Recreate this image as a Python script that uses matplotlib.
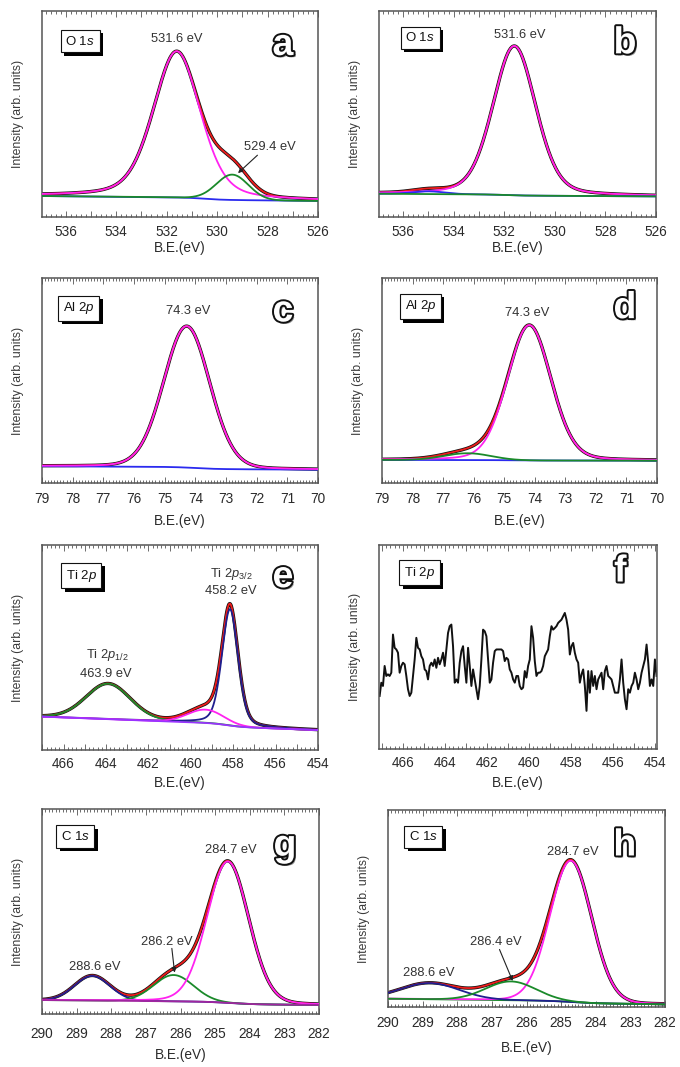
import numpy as np
import matplotlib
matplotlib.use("Agg")
import matplotlib.pyplot as plt
import matplotlib.patheffects as pe
from matplotlib.ticker import MultipleLocator, FuncFormatter

plt.rcParams['font.family'] = ['Liberation Sans', 'DejaVu Sans']
plt.rcParams['mathtext.fontset'] = 'custom'
plt.rcParams['mathtext.rm'] = 'Liberation Sans'
plt.rcParams['mathtext.it'] = 'Liberation Sans:italic'

# ---------------- data (peak parameters) ----------------
# each fitted component: centre (eV), height above background, FWHM (eV), Lorentzian fraction
# background: [value at low-BE end, slope per eV, Shirley step height, step centre]
a_centers = [531.6, 529.4]
a_heights = [71.0, 12.3]
a_fwhm = [2.2, 1.5]
a_eta = [0.35, 0.0]
a_bg = [7.8, 0.127, 1.0, 530.5]

b_centers = [531.6, 535.0]
b_heights = [72.5, 1.3]
b_fwhm = [2.0, 1.5]
b_eta = [0.25, 0.0]
b_bg = [10.0, 0.073, 0.5, 532.0]

c_centers = [74.28]
c_heights = [69.0]
c_fwhm = [1.78]
c_eta = [0.1]
c_bg = [6.5, 0.078, 1.0, 74.0]

d_centers = [74.18, 76.2]
d_heights = [66.0, 3.3]
d_fwhm = [1.68, 1.8]
d_eta = [0.15, 0.0]
d_bg = [10.9, 0.02, 0.2, 75.0]

e_centers = [463.9, 458.15, 459.3]
e_heights = [17.3, 56.8, 6.5]
e_fwhm = [2.46, 0.9, 2.0]
e_eta = [0.1, 0.3, 0.0]
e_bg = [9.7, 0.39, 1.5, 458.3]

g_centers = [288.55, 286.2, 284.63]
g_heights = [12.0, 12.8, 69.0]
g_fwhm = [1.2, 1.35, 1.42]
g_eta = [0.0, 0.0, 0.1]
g_bg = [4.4, 0.15, 1.2, 284.6]

h_centers = [288.8, 286.45, 284.72]
h_heights = [8.2, 9.5, 71.7]
h_fwhm = [2.0, 1.7, 1.42]
h_eta = [0.0, 0.0, 0.05]
h_bg = [1.4, 0.2, 1.2, 284.7]

# panel f: raw Ti 2p spectrum (no peak), read point by point
f_be_range = [467.11, 453.92]
f_intensity = [26.0, 32.5, 30.9, 40.7, 35.8, 36.6, 35.8, 37.4, 56.1, 49.6,
               48.8, 47.2, 37.4, 40.7, 42.3, 41.5, 35.8, 29.3, 26.0, 27.6,
               35.8, 43.9, 54.5, 49.6, 48.8, 45.5, 43.9, 39.0, 38.2, 34.1,
               40.7, 42.3, 40.7, 43.9, 39.8, 44.7, 41.5, 43.9, 47.2, 40.7,
               48.8, 56.9, 60.2, 61.0, 50.4, 32.5, 34.1, 32.5, 42.3, 48.0,
               50.4, 40.7, 32.5, 49.6, 40.7, 30.9, 39.0, 34.1, 29.3, 24.4,
               30.9, 43.9, 58.5, 57.7, 55.3, 43.9, 32.5, 34.1, 42.3, 48.0,
               48.8, 48.8, 48.8, 48.8, 48.0, 43.1, 44.7, 43.9, 39.0, 37.4,
               34.1, 32.5, 35.8, 35.8, 30.9, 29.3, 30.1, 38.2, 35.0, 40.7,
               43.9, 60.2, 54.5, 43.1, 35.8, 37.4, 37.4, 38.2, 40.7, 45.5,
               47.2, 48.8, 55.3, 60.2, 58.5, 59.3, 60.2, 61.8, 62.6, 63.4,
               65.0, 66.7, 63.4, 58.5, 46.3, 50.4, 52.0, 47.2, 43.9, 42.3,
               32.5, 36.6, 39.0, 30.9, 18.7, 38.2, 27.6, 38.2, 30.9, 35.8,
               29.3, 34.1, 35.8, 37.4, 29.3, 38.2, 40.7, 35.8, 35.0, 34.1,
               30.9, 27.6, 27.6, 27.6, 34.1, 43.9, 32.5, 24.4, 19.5, 29.3,
               27.6, 30.9, 32.5, 37.4, 34.1, 29.3, 32.5, 37.4, 40.7, 43.9,
               51.2, 42.3, 30.9, 34.1, 30.9, 43.9, 35.8]

core_levels = ['O 1$\\mathit{s}$', 'O 1$\\mathit{s}$', 'Al 2$\\mathit{p}$', 'Al 2$\\mathit{p}$',
               'Ti 2$\\mathit{p}$', 'Ti 2$\\mathit{p}$', 'C 1$\\mathit{s}$', 'C 1$\\mathit{s}$']
panel_letters = ['a', 'b', 'c', 'd', 'e', 'f', 'g', 'h']

# ---------------- styles ----------------
BLACK = '#111111'
RED = '#ee1c1c'
MAG = '#ff22f0'
GRN = '#1a8a2a'
BLUE = '#2b2bef'
NAVY = '#1f1f8f'
VIOL = '#9933ff'
PURP = '#a0259f'
TXT = '#333333'

W, H = 680, 1067
fig = plt.figure(figsize=(W / 100, H / 100), dpi=100)


def add_ax(l, t, r, b):
    return fig.add_axes([l / W, 1 - b / H, (r - l) / W, (b - t) / H])


def pv(x, c, h, w, eta):
    u = ((x - c) / w) ** 2
    return h * ((1 - eta) * np.exp(-4 * np.log(2) * u) + eta / (1 + 4 * u))


def background(x, p):
    y0, slope, step, xc = p
    return y0 + slope * (x - x.min()) + step / (1 + np.exp(-(x - xc) / 0.35))


def style_axis(ax, xlim, minor, label_step, pad, be_off, hpx):
    ax.set_xlim(*xlim)
    ax.set_ylim(0, 100)
    ax.set_yticks([])
    ax.xaxis.set_major_locator(MultipleLocator(1))
    ax.xaxis.set_minor_locator(MultipleLocator(minor))
    ax.xaxis.set_major_formatter(FuncFormatter(
        lambda v, p: f'{v:.0f}' if abs(v / label_step - round(v / label_step)) < 1e-6 else ''))
    ax.tick_params(axis='x', which='both', direction='in', top=True, bottom=True,
                   color='#555555', width=0.6, labelsize=9.8, labelcolor='#2a2a2a', pad=pad)
    ax.tick_params(axis='x', which='major', length=4)
    ax.tick_params(axis='x', which='minor', length=2)
    for s in ax.spines.values():
        s.set_color('#555555')
        s.set_linewidth(1.1)
    ax.set_xlabel('B.E.(eV)', fontsize=9.8, color='#2a2a2a')
    ax.xaxis.label.set_va('center')
    ax.xaxis.set_label_coords(0.5, -be_off / hpx)
    ax.set_ylabel('Intensity (arb. units)', fontsize=8.8, color='#3a3a3a')
    ax.yaxis.set_label_coords(-18 / 276, 0.5)


def label_box(ax, x, y, text):
    t = ax.text(x, y, text, transform=ax.transAxes, fontsize=9.5, va='center', ha='left',
                color='#111111',
                bbox=dict(boxstyle='square,pad=0.35', fc='white', ec='#111111', lw=0.8))
    t.get_bbox_patch().set_path_effects([
        pe.SimplePatchShadow(offset=(2.5, -2.5), shadow_rgbFace='black', alpha=1.0),
        pe.Normal()])


def letter(ax, x, y, s):
    ax.text(x, y, s, transform=ax.transAxes, fontsize=27, fontweight='bold', color='white',
            ha='center', va='center',
            path_effects=[pe.SimplePatchShadow(offset=(1.5, -1.5), shadow_rgbFace='#999999', alpha=1),
                          pe.Stroke(linewidth=2.8, foreground='#111111'), pe.Normal()])


def draw_fit(ax, xlim, bgp, centers, heights, fwhm, eta, comp_colors, bg_color, order):
    x = np.linspace(xlim[0], xlim[1], 600)
    bg = background(x, bgp)
    comps = [bg + pv(x, c, h, w, e) for c, h, w, e in zip(centers, heights, fwhm, eta)]
    env = bg + sum(cc - bg for cc in comps)
    ax.plot(x, env, color=BLACK, lw=2.4, zorder=1)
    ax.plot(x, env, color=RED, lw=1.3, zorder=2)
    z = 3
    for item in order:
        if item == 'bg':
            ax.plot(x, bg, color=bg_color, lw=1.3, zorder=z)
        else:
            ax.plot(x, comps[item], color=comp_colors[item], lw=1.3, zorder=z)
        z += 1


def ann(ax, x, y, s, **kw):
    ax.text(x, y, s, fontsize=9.3, color=TXT, ha='center', va='center', **kw)


def arrow(ax, xy, xytext):
    ax.annotate('', xy=xy, xytext=xytext,
                arrowprops=dict(arrowstyle='-|>', color='#222222', lw=0.8,
                                mutation_scale=7, shrinkA=0, shrinkB=0))


# ---------------- panel a ----------------
ax = add_ax(42, 11, 318, 217)
xl = (536.94, 526)
style_axis(ax, xl, 0.2, 2, 5.4, 31, 206)
draw_fit(ax, xl, a_bg, a_centers, a_heights, a_fwhm, a_eta, [MAG, GRN], BLUE, ['bg', 0, 1])
ann(ax, 531.6, 86.5, '531.6 eV')
ann(ax, 527.9, 34, '529.4 eV')
arrow(ax, (529.17, 21.3), (528.4, 30))
label_box(ax, 0.085, 0.854, core_levels[0])
letter(ax, 0.873, 0.835, panel_letters[0])

# ---------------- panel b ----------------
ax = add_ax(379, 11, 656, 217)
xl = (536.95, 526)
style_axis(ax, xl, 0.2, 2, 5.4, 31, 206)
draw_fit(ax, xl, b_bg, b_centers, b_heights, b_fwhm, b_eta, [MAG, BLUE], GRN, [0, 1, 'bg'])
ann(ax, 531.4, 88.4, '531.6 eV')
label_box(ax, 0.095, 0.87, core_levels[1])
letter(ax, 0.888, 0.843, panel_letters[1])

# ---------------- panel c ----------------
ax = add_ax(42, 278, 318, 483)
xl = (79, 70)
style_axis(ax, xl, 0.1, 1, 6.8, 38, 205)
draw_fit(ax, xl, c_bg, c_centers, c_heights, c_fwhm, c_eta, [MAG], BLUE, ['bg', 0])
ann(ax, 74.24, 83.7, '74.3 eV')
label_box(ax, 0.075, 0.853, core_levels[2])
letter(ax, 0.873, 0.837, panel_letters[2])

# ---------------- panel d ----------------
ax = add_ax(382, 278, 657, 483)
xl = (79, 70)
style_axis(ax, xl, 0.1, 1, 6.8, 38, 205)
draw_fit(ax, xl, d_bg, d_centers, d_heights, d_fwhm, d_eta, [MAG, GRN], BLUE, ['bg', 0, 1])
ann(ax, 74.24, 82.9, '74.3 eV')
label_box(ax, 0.082, 0.861, core_levels[3])
letter(ax, 0.883, 0.853, panel_letters[3])

# ---------------- panel e ----------------
ax = add_ax(42, 545, 318, 750)
xl = (467.02, 454)
style_axis(ax, xl, 0.2, 2, 4.7, 33, 205)
draw_fit(ax, xl, e_bg, e_centers, e_heights, e_fwhm, e_eta, [GRN, NAVY, MAG], VIOL, [0, 1, 2, 'bg'])
ann(ax, 458.1, 85.9, 'Ti 2$\\mathit{p}_{3/2}$')
ann(ax, 458.13, 77.8, '458.2 eV')
ann(ax, 463.93, 46.2, 'Ti 2$\\mathit{p}_{1/2}$')
ann(ax, 463.99, 37.3, '463.9 eV')
label_box(ax, 0.086, 0.851, core_levels[4])
letter(ax, 0.873, 0.843, panel_letters[4])

# ---------------- panel f ----------------
ax = add_ax(379, 545, 657, 749)
xl = (467.14, 453.9)
style_axis(ax, xl, 0.2, 2, 4.7, 34, 204)
f_be = np.linspace(f_be_range[0], f_be_range[1], len(f_intensity))
ax.plot(f_be, f_intensity, color=BLACK, lw=1.4)
label_box(ax, 0.09, 0.865, core_levels[5])
letter(ax, 0.868, 0.87, panel_letters[5])

# ---------------- panel g ----------------
ax = add_ax(42, 809, 319, 1014)
xl = (290, 282)
style_axis(ax, xl, 0.1, 1, 9.0, 41, 205)
draw_fit(ax, xl, g_bg, g_centers, g_heights, g_fwhm, g_eta, [NAVY, GRN, MAG], PURP, [0, 1, 2, 'bg'])
ann(ax, 284.56, 80.1, '284.7 eV')
ann(ax, 286.4, 35.3, '286.2 eV')
arrow(ax, (286.17, 20.2), (286.25, 32))
ann(ax, 288.47, 23.1, '288.6 eV')
label_box(ax, 0.068, 0.866, core_levels[6])
letter(ax, 0.877, 0.82, panel_letters[6])

# ---------------- panel h ----------------
ax = add_ax(388, 810, 665, 1007)
xl = (290, 282)
style_axis(ax, xl, 0.1, 1, 6.8, 41, 197)
draw_fit(ax, xl, h_bg, h_centers, h_heights, h_fwhm, h_eta, [NAVY, GRN, MAG], GRN, ['bg', 2, 0, 1])
ann(ax, 284.66, 78.8, '284.7 eV')
ann(ax, 286.88, 33, '286.4 eV')
arrow(ax, (286.4, 13.2), (286.78, 29.2))
ann(ax, 288.81, 17.3, '288.6 eV')
label_box(ax, 0.075, 0.864, core_levels[7])
letter(ax, 0.855, 0.82, panel_letters[7])

fig.savefig('out.png', dpi=100)
